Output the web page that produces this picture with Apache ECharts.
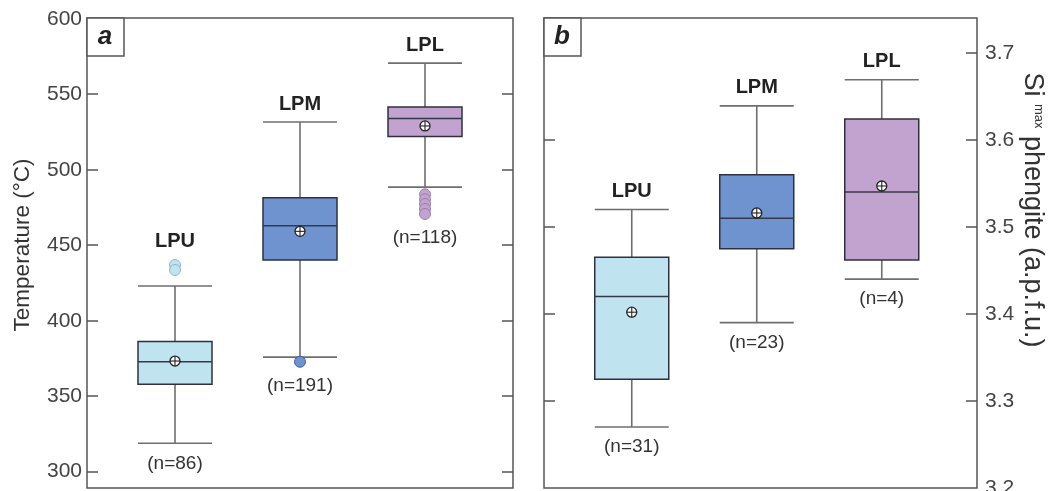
<!DOCTYPE html>
<html>
<head>
<meta charset="utf-8">
<script src="https://cdn.jsdelivr.net/npm/echarts@6/dist/echarts.min.js"></script>
<style>
  html, body { margin: 0; padding: 0; background: #fff; }
  #chart { width: 1048px; height: 491px; }
</style>
</head>
<body>
<div id="chart"></div>
<script>
var groups = ['LPU', 'LPM', 'LPL'];
var fills = ['#bfe3ef', '#6e93cf', '#c2a3d0'];
var outlierBorders = ['#8fb8c8', '#3f5f9c', '#9a7fae'];

// panel a: temperature
var tempCounts = ['(n=86)', '(n=191)', '(n=118)'];
var tempLow = [318.8, 375.9, 488.5];
var tempQ1 = [358.0, 440.2, 522.0];
var tempMedian = [372.8, 462.9, 534.0];
var tempQ3 = [386.3, 481.5, 541.5];
var tempHigh = [423.0, 531.6, 570.6];
var tempMean = [373.3, 459.2, 529.0];
var tempOutliers = [[436.9, 433.6], [372.8], [483.7, 480.4, 477.3, 474.0, 470.7]];
var tempTicks = [300, 350, 400, 450, 500, 550, 600];

// panel b: Si max phengite
var siCounts = ['(n=31)', '(n=23)', '(n=4)'];
var siLow = [3.270, 3.390, 3.440];
var siQ1 = [3.325, 3.475, 3.462];
var siMedian = [3.420, 3.510, 3.540];
var siQ3 = [3.465, 3.560, 3.624];
var siHigh = [3.520, 3.639, 3.669];
var siMean = [3.402, 3.516, 3.547];
var siOutliers = [[], [], []];
var siTicks = [3.2, 3.3, 3.4, 3.5, 3.6, 3.7];

var font = 'Liberation Sans, Arial, Helvetica, sans-serif';
var frameColor = '#555';

function boxData(low, q1, med, q3, high, mean) {
  return groups.map(function (g, i) {
    return [i + 1, low[i], q1[i], med[i], q3[i], high[i], mean[i]];
  });
}

function outlierData(list) {
  var pts = [];
  list.forEach(function (vals, i) {
    vals.forEach(function (v) {
      pts.push({ value: [i + 1, v], itemStyle: { color: fills[i], borderColor: outlierBorders[i] } });
    });
  });
  return pts;
}

function makeRender(counts, outliers) {
  return function (params, api) {
    var i = params.dataIndex;
    var x = api.value(0);
    var low = api.coord([x, api.value(1)]);
    var q1 = api.coord([x, api.value(2)]);
    var med = api.coord([x, api.value(3)]);
    var q3 = api.coord([x, api.value(4)]);
    var high = api.coord([x, api.value(5)]);
    var mean = api.coord([x, api.value(6)]);
    var half = api.size([0.296, 0])[0];
    var cx = low[0];

    var topY = high[1];
    var botY = low[1] + 20;
    outliers[i].forEach(function (v) {
      var oy = api.coord([x, v])[1];
      if (oy - 6 < topY) topY = oy - 6;
      if (oy + 24 > botY) botY = oy + 24;
    });

    var whisker = { stroke: '#6e6e6e', lineWidth: 1.6 };
    var r = 5;
    return {
      type: 'group',
      children: [
        { type: 'line', shape: { x1: cx, y1: low[1], x2: cx, y2: high[1] }, style: whisker },
        { type: 'line', shape: { x1: cx - half, y1: low[1], x2: cx + half, y2: low[1] }, style: whisker },
        { type: 'line', shape: { x1: cx - half, y1: high[1], x2: cx + half, y2: high[1] }, style: whisker },
        { type: 'rect', shape: { x: cx - half, y: q3[1], width: half * 2, height: q1[1] - q3[1] },
          style: { fill: fills[i], stroke: '#2e3040', lineWidth: 1.5 } },
        { type: 'line', shape: { x1: cx - half, y1: med[1], x2: cx + half, y2: med[1] },
          style: { stroke: '#33384a', lineWidth: 1.5 } },
        { type: 'circle', shape: { cx: cx, cy: mean[1], r: r },
          style: { fill: '#fff', stroke: '#222', lineWidth: 1.3 } },
        { type: 'line', shape: { x1: cx - r, y1: mean[1], x2: cx + r, y2: mean[1] },
          style: { stroke: '#222', lineWidth: 1.1 } },
        { type: 'line', shape: { x1: cx, y1: mean[1] - r, x2: cx, y2: mean[1] + r },
          style: { stroke: '#222', lineWidth: 1.1 } },
        { type: 'text', x: cx, y: topY - 18,
          style: { text: groups[i], fill: '#222', font: 'bold 20px ' + font, align: 'center', verticalAlign: 'middle' } },
        { type: 'text', x: cx, y: botY,
          style: { text: counts[i], fill: '#333', font: '19px ' + font, align: 'center', verticalAlign: 'middle' } }
      ]
    };
  };
}

function tickAxis(grid, pos, min, max, ticks, labels, margin) {
  return {
    type: 'value',
    gridIndex: grid,
    position: pos,
    min: min,
    max: max,
    axisLine: { show: false },
    splitLine: { show: false },
    axisTick: {
      show: true, inside: true, length: 11,
      customValues: ticks,
      lineStyle: { color: frameColor, width: 1.5 }
    },
    axisLabel: labels ? {
      show: true, customValues: labels, margin: margin,
      color: '#444', fontSize: 21, fontFamily: font,
      formatter: function (v) { return min < 10 ? v.toFixed(1) : String(v); }
    } : { show: false }
  };
}

var chart = echarts.init(document.getElementById('chart'));

var option = {
  animation: false,
  grid: [
    { left: 87, top: 18, width: 426, height: 470, show: true, borderColor: frameColor, borderWidth: 1.5,
      outerBoundsMode: 'none' },
    { left: 544, top: 18, width: 433, height: 470, show: true, borderColor: frameColor, borderWidth: 1.5,
      outerBoundsMode: 'none' }
  ],
  xAxis: [
    { type: 'value', gridIndex: 0, min: 0.296, max: 3.704, show: false },
    { type: 'value', gridIndex: 1, min: 0.298, max: 3.762, show: false }
  ],
  yAxis: [
    tickAxis(0, 'left', 289.2, 600.5, tempTicks.slice(0, 6), tempTicks, 5),
    tickAxis(0, 'right', 289.2, 600.5, tempTicks.slice(0, 6), null),
    tickAxis(1, 'right', 3.2, 3.74, siTicks.slice(1), siTicks, 8),
    tickAxis(1, 'left', 3.2, 3.74, siTicks.slice(1), null)
  ],
  series: [
    { type: 'custom', xAxisIndex: 0, yAxisIndex: 0, z: 2,
      renderItem: makeRender(tempCounts, tempOutliers),
      data: boxData(tempLow, tempQ1, tempMedian, tempQ3, tempHigh, tempMean) },
    { type: 'scatter', xAxisIndex: 0, yAxisIndex: 0, z: 3, symbolSize: 11,
      itemStyle: { borderWidth: 1, opacity: 1 },
      data: outlierData(tempOutliers) },
    { type: 'custom', xAxisIndex: 1, yAxisIndex: 2, z: 2,
      renderItem: makeRender(siCounts, siOutliers),
      data: boxData(siLow, siQ1, siMedian, siQ3, siHigh, siMean) }
  ],
  graphic: [
    { type: 'rect', shape: { x: 87, y: 18, width: 37, height: 38 }, z: 10,
      style: { fill: '#fff', stroke: frameColor, lineWidth: 1.5 } },
    { type: 'text', x: 105, y: 37, z: 11,
      style: { text: 'a', font: 'italic bold 26px ' + font, fill: '#222', align: 'center', verticalAlign: 'middle' } },
    { type: 'rect', shape: { x: 544, y: 18, width: 37, height: 38 }, z: 10,
      style: { fill: '#fff', stroke: frameColor, lineWidth: 1.5 } },
    { type: 'text', x: 562, y: 37, z: 11,
      style: { text: 'b', font: 'italic bold 26px ' + font, fill: '#222', align: 'center', verticalAlign: 'middle' } },
    { type: 'text', x: 23, y: 245, rotation: Math.PI / 2, z: 11,
      style: { text: 'Temperature (°C)', font: '22.5px ' + font, fill: '#333', align: 'center', verticalAlign: 'middle' } },
    { type: 'text', x: 1032, y: 210, rotation: -Math.PI / 2, z: 11,
      style: {
        text: '{a|Si }{s|max}{a| phengite (a.p.f.u.)}',
        align: 'center', verticalAlign: 'middle',
        rich: {
          a: { fontSize: 27, fontFamily: font, fill: '#333', color: '#333' },
          s: { fontSize: 13, fontFamily: font, fill: '#333', color: '#333', verticalAlign: 'top' }
        }
      } }
  ]
};
chart.setOption(option);
</script>
</body>
</html>
